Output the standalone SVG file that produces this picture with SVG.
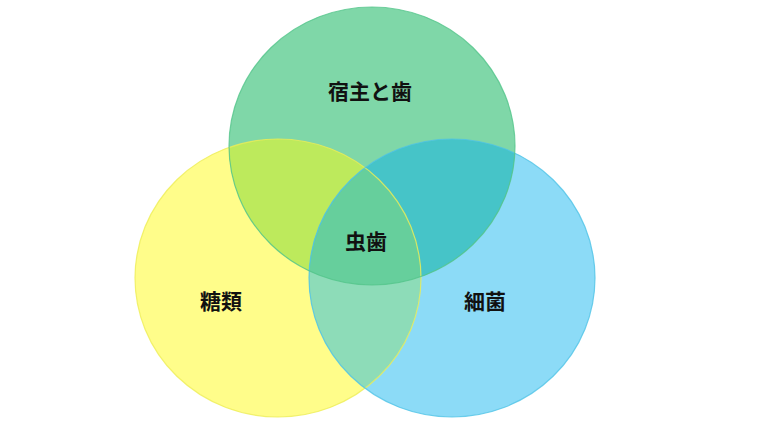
<svg xmlns="http://www.w3.org/2000/svg" width="770" height="433" viewBox="0 0 770 433">
<defs>
<clipPath id="cG"><ellipse cx="372" cy="146" rx="143" ry="139"/></clipPath>
<clipPath id="cY"><ellipse cx="278" cy="278" rx="143" ry="139"/></clipPath>
<clipPath id="cB"><ellipse cx="452" cy="278" rx="143" ry="139"/></clipPath>
<style>
text{font-family:"Liberation Sans","Noto Sans CJK JP",sans-serif;font-size:21px;font-weight:bold;fill:#111;text-anchor:middle}
</style>
</defs>
<rect width="770" height="433" fill="#ffffff"/>
<g id="yellow"><ellipse cx="278" cy="278" rx="143" ry="139" fill="#FFFD8A"/></g>
<g id="blue"><ellipse cx="452" cy="278" rx="143" ry="139" fill="#8CDBF7"/></g>
<g id="green"><ellipse cx="372" cy="146" rx="143" ry="139" fill="#7FD7A8"/></g>
<g id="overlaps">
<g clip-path="url(#cY)"><ellipse cx="372" cy="146" rx="143" ry="139" fill="#BDEA5C"/></g>
<g clip-path="url(#cB)"><ellipse cx="372" cy="146" rx="143" ry="139" fill="#46C4C8"/></g>
<g clip-path="url(#cY)"><ellipse cx="452" cy="278" rx="143" ry="139" fill="#8DDCB8"/></g>
<g clip-path="url(#cY)"><g clip-path="url(#cB)"><ellipse cx="372" cy="146" rx="143" ry="139" fill="#66CF9C"/></g></g>
</g>
<g id="outlines" fill="none" stroke-width="1.2">
<ellipse cx="278" cy="278" rx="143" ry="139" stroke="#EDEE55" stroke-opacity="0.8"/>
<ellipse cx="452" cy="278" rx="143" ry="139" stroke="#4FC3E6" stroke-opacity="0.8"/>
<ellipse cx="372" cy="146" rx="143" ry="139" stroke="#52C48A" stroke-opacity="0.8"/>
</g>
<g id="labels">
<text x="370" y="99">宿主と歯</text>
<text x="366" y="249">虫歯</text>
<text x="221" y="309">糖類</text>
<text x="485" y="309">細菌</text>
</g>
</svg>
